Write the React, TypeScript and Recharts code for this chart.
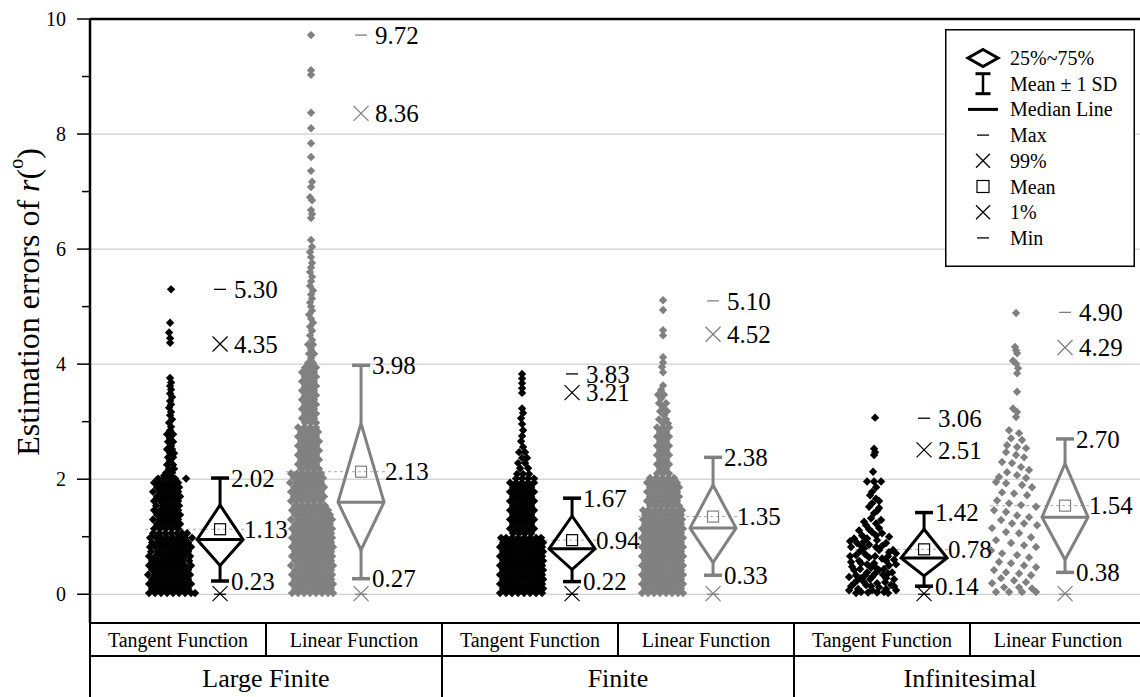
import React from 'react';
import { ComposedChart, Scatter, XAxis, YAxis, ReferenceLine, Legend, Label, CartesianGrid } from 'recharts';

const FONT = '"Liberation Serif", "Times New Roman", serif';

// ---------- categories / ticks ----------
const GROUPS = ['Large Finite', 'Finite', 'Infinitesimal'];
const SUBCATS = ['Tangent Function', 'Linear Function'];
const Y_TICKS = [0, 1, 2, 3, 4, 5, 6, 7, 8, 9, 10];
const GRID_VALUES = [0, 2, 4, 6, 8];
const SUB_TICKS = [0.5, 1.5, 2.5, 3.5, 4.5, 5.5];
const GROUP_TICKS = [1, 3, 5];
const LEGEND_ITEMS = ['25%~75%', 'Mean \u00b1 1 SD', 'Median Line', 'Max', '99%', 'Mean', '1%', 'Min'];

// ---------- box statistics (series order: LF-Tan, LF-Lin, F-Tan, F-Lin, I-Tan, I-Lin) ----------
const MAX_V = [5.3, 9.72, 3.83, 5.1, 3.06, 4.9];
const P99 = [4.35, 8.36, 3.21, 4.52, 2.51, 4.29];
const SD_HI = [2.02, 3.98, 1.67, 2.38, 1.42, 2.7];
const Q3 = [1.55, 2.97, 1.36, 1.9, 1.13, 2.27];
const MEAN = [1.13, 2.13, 0.94, 1.35, 0.78, 1.54];
const MEDIAN = [0.95, 1.6, 0.79, 1.15, 0.63, 1.34];
const Q1 = [0.5, 0.77, 0.43, 0.55, 0.32, 0.6];
const SD_LO = [0.23, 0.27, 0.22, 0.33, 0.14, 0.38];
const P1 = [0.01, 0.01, 0.01, 0.01, 0.01, 0.01];
const MIN_V = [0.0, 0.0, 0.0, 0.0, 0.0, 0.0];

// ---------- raw data points: [value, jitter offsets (px)] ----------
type Row = [number, number[]];

const LF_TAN: Row[] = [
  [0.02, [-21, -15, -9, -3, 3, 9, 15, 21, 25]], [0.1, [-18, -12, -6, 0, 6, 12, 18]],
  [0.18, [-21, -15, -9, -3, 3, 9, 15, 21]], [0.26, [-18, -12, -6, 0, 6, 12, 18]],
  [0.34, [-22, -15, -9, -3, 3, 9, 15, 20]], [0.42, [-18, -12, -6, 0, 6, 12, 18]],
  [0.5, [-21, -15, -9, -3, 3, 9, 15, 21]], [0.58, [-18, -12, -6, 0, 6, 12, 19]],
  [0.66, [-21, -15, -9, -3, 3, 9, 15, 20]], [0.74, [-19, -12, -6, 0, 6, 12, 18]],
  [0.82, [-20, -15, -9, -3, 3, 9, 15, 21]], [0.9, [-18, -12, -6, 0, 6, 12, 18]],
  [0.98, [-20, -14, -9, -3, 3, 9, 15, 22]], [1.06, [-17, -11, -5, 1, 7, 12, 17]],
  [1.14, [-16, -10, -4, 2, 8]], [1.22, [-13, -7, -1, 5, 10]], [1.3, [-17, -10, -4, 2, 8]],
  [1.38, [-13, -7, -1, 5, 10]], [1.46, [-16, -10, -4, 2, 8]], [1.54, [-14, -7, -1, 5, 9]],
  [1.62, [-16, -10, -4, 2, 8]], [1.7, [-13, -7, -1, 5, 10]], [1.78, [-17, -10, -4, 2, 8]],
  [1.86, [-13, -7, -1, 5, 9]], [1.94, [-16, -10, -4, 2, 8]], [2.01, [-12, -6, 0, 5, 16]],
  [2.06, [-6, 0]], [2.11, [-4, 2]], [2.18, [-1, 4]], [2.25, [-3, 3]], [2.32, [0]], [2.38, [-2, 3]],
  [2.45, [0, 4]], [2.52, [-3, 2]], [2.58, [1]], [2.65, [-2, 3]], [2.71, [0]], [2.78, [-3, 3]],
  [2.85, [0]], [2.91, [1]], [2.98, [-1]], [3.04, [2]], [3.11, [0]], [3.17, [1]], [3.24, [-1]],
  [3.3, [1]], [3.36, [0]], [3.43, [2]], [3.49, [0]], [3.56, [1]], [3.62, [0]], [3.68, [1]],
  [3.76, [0]], [4.37, [0]], [4.45, [0]], [4.55, [-1]], [4.72, [0]], [5.3, [1]],
];

const LF_LIN: Row[] = [
  [0.02, [-19, -13, -7, -1, 5, 11, 17, 22]], [0.1, [-16, -10, -4, 2, 8, 14, 20]],
  [0.18, [-19, -13, -7, -1, 5, 11, 17, 22]], [0.26, [-16, -10, -4, 2, 8, 14, 20]],
  [0.34, [-19, -13, -7, -1, 5, 11, 17, 21]], [0.42, [-16, -10, -4, 2, 8, 14, 20]],
  [0.5, [-20, -13, -7, -1, 5, 11, 17, 22]], [0.58, [-16, -10, -4, 2, 8, 14, 20]],
  [0.66, [-19, -13, -7, -1, 5, 11, 17, 21]], [0.74, [-16, -10, -4, 2, 8, 14, 20]],
  [0.82, [-19, -13, -7, -1, 5, 11, 17, 22]], [0.9, [-16, -10, -4, 2, 8, 14, 20]],
  [0.98, [-19, -13, -7, -1, 5, 11, 17, 21]], [1.06, [-16, -10, -4, 2, 8, 14, 20]],
  [1.14, [-19, -13, -7, -1, 5, 11, 17, 21]], [1.22, [-16, -10, -4, 2, 8, 14, 19]],
  [1.3, [-20, -13, -7, -1, 5, 11, 17, 21]], [1.38, [-16, -10, -4, 2, 8, 14, 19]],
  [1.46, [-19, -13, -7, -1, 5, 11, 17]], [1.54, [-16, -10, -4, 2, 8, 14]],
  [1.62, [-20, -14, -8, -2, 4, 10]], [1.7, [-17, -11, -5, 1, 7, 13]], [1.78, [-20, -14, -8, -2, 4, 10]],
  [1.86, [-17, -11, -5, 1, 7, 13]], [1.94, [-21, -14, -8, -2, 4, 10]], [2.02, [-17, -11, -5, 1, 7, 12]],
  [2.1, [-20, -14, -8, -2, 4, 10]], [2.18, [-10, -4, 2, 8]], [2.26, [-13, -7, -1, 5]],
  [2.34, [-10, -4, 2, 8]], [2.42, [-13, -7, -1, 5]], [2.5, [-10, -4, 2, 8]], [2.58, [-13, -7, -1, 5]],
  [2.66, [-10, -4, 2, 8]], [2.74, [-13, -7, -1, 5]], [2.82, [-10, -4, 2, 7]], [2.9, [-13, -7, -1, 5]],
  [2.98, [-6, 0, 5]], [3.06, [-9, -3, 3]], [3.14, [-6, 0, 5]], [3.22, [-9, -3, 3]], [3.3, [-6, 0, 5]],
  [3.38, [-9, -3, 3]], [3.46, [-6, 0, 5]], [3.54, [-9, -3, 3]], [3.62, [-6, 0, 5]], [3.7, [-9, -3, 3]],
  [3.78, [-6, 0, 5]], [3.86, [-9, -3, 3]], [3.94, [-6, 0, 5]], [4.02, [-3, 2]], [4.1, [0]],
  [4.18, [-2, 3]], [4.26, [0]], [4.34, [-3, 2]], [4.42, [1]], [4.5, [-1]], [4.58, [1]], [4.65, [-1]],
  [4.72, [2]], [4.79, [0]], [4.86, [-2]], [4.93, [1]], [5.0, [0]], [5.07, [-1]], [5.14, [1]],
  [5.21, [0]], [5.28, [2]], [5.36, [-1]], [5.44, [0]], [5.52, [1]], [5.6, [-1]], [5.68, [0]],
  [5.76, [1]], [5.86, [0]], [5.95, [-1]], [6.04, [1]], [6.16, [0]], [6.54, [0]], [6.61, [1]],
  [6.68, [0]], [6.85, [1]], [6.9, [-1]], [7.08, [0]], [7.17, [1]], [7.36, [0]], [7.6, [0]],
  [7.84, [0]], [8.1, [0]], [8.37, [0]], [9.03, [0]], [9.11, [0]], [9.72, [0]],
];

const FI_TAN: Row[] = [
  [0.02, [-22, -16, -10, -4, 2, 8, 14, 20]], [0.1, [-19, -13, -7, -1, 5, 11, 17, 21]],
  [0.18, [-22, -16, -10, -4, 2, 8, 14, 20]], [0.26, [-19, -13, -7, -1, 5, 11, 17, 21]],
  [0.34, [-22, -16, -10, -4, 2, 8, 14, 20]], [0.42, [-19, -13, -7, -1, 5, 11, 17, 21]],
  [0.5, [-22, -16, -10, -4, 2, 8, 14, 20]], [0.58, [-19, -13, -7, -1, 5, 11, 17, 21]],
  [0.66, [-22, -16, -10, -4, 2, 8, 14, 20]], [0.74, [-19, -13, -7, -1, 5, 11, 17, 21]],
  [0.82, [-22, -16, -10, -4, 2, 8, 14, 20]], [0.9, [-19, -13, -7, -1, 5, 11, 17, 21]],
  [0.98, [-21, -16, -10, -4, 2, 8, 14, 19]], [1.06, [-9, -3, 3, 9]], [1.14, [-12, -6, 0, 6, 12]],
  [1.22, [-9, -3, 3, 9]], [1.3, [-12, -6, 0, 6, 12]], [1.38, [-9, -3, 3, 9]], [1.46, [-12, -6, 0, 6, 12]],
  [1.54, [-9, -3, 3, 9]], [1.62, [-12, -6, 0, 6, 12]], [1.7, [-9, -3, 3, 9]], [1.78, [-12, -6, 0, 6, 12]],
  [1.86, [-9, -3, 3, 9]], [1.94, [-12, -6, 0, 6, 12]], [2.01, [-6, 0, 6, 12]], [2.09, [-5, 1, 7]],
  [2.19, [-2, 6]], [2.28, [-4, 3]], [2.37, [0, 5]], [2.47, [-3, 3]], [2.56, [1]], [2.66, [-1]],
  [2.75, [0]], [2.85, [1]], [2.96, [0]], [3.06, [-1]], [3.15, [1]], [3.23, [0]], [3.5, [0]],
  [3.58, [0]], [3.67, [0]], [3.75, [0]], [3.83, [0]],
];

const FI_LIN: Row[] = [
  [0.02, [-21, -15, -9, -3, 3, 9, 15, 20]], [0.1, [-18, -12, -6, 0, 6, 12, 18]],
  [0.18, [-21, -15, -9, -3, 3, 9, 15, 20]], [0.26, [-18, -12, -6, 0, 6, 12, 18]],
  [0.34, [-21, -15, -9, -3, 3, 9, 15, 20]], [0.42, [-18, -12, -6, 0, 6, 12, 18]],
  [0.5, [-21, -15, -9, -3, 3, 9, 15, 20]], [0.58, [-18, -12, -6, 0, 6, 12, 18]],
  [0.66, [-21, -15, -9, -3, 3, 9, 15, 20]], [0.74, [-18, -12, -6, 0, 6, 12, 18]],
  [0.82, [-21, -15, -9, -3, 3, 9, 15, 20]], [0.9, [-18, -12, -6, 0, 6, 12, 18]],
  [0.98, [-21, -15, -9, -3, 3, 9, 15, 20]], [1.06, [-18, -12, -6, 0, 6, 12, 18]],
  [1.14, [-21, -15, -9, -3, 3, 9, 15, 20]], [1.22, [-18, -12, -6, 0, 6, 12, 18]],
  [1.3, [-20, -15, -9, -3, 3, 9, 15, 19]], [1.38, [-18, -12, -6, 0, 6, 12, 18]],
  [1.46, [-20, -15, -9, -3, 3, 9, 15, 19]], [1.54, [-13, -7, -1, 5, 11, 16]],
  [1.62, [-16, -10, -4, 2, 8, 14]], [1.7, [-13, -7, -1, 5, 11, 16]], [1.78, [-16, -10, -4, 2, 8, 14]],
  [1.86, [-13, -7, -1, 5, 11, 16]], [1.94, [-16, -10, -4, 2, 8, 14]], [2.02, [-13, -7, -1, 5, 11]],
  [2.1, [-6, 0, 6]], [2.18, [-3, 3]], [2.26, [-6, 0, 6]], [2.34, [-3, 3]], [2.42, [-6, 0, 6]],
  [2.5, [-3, 3]], [2.58, [-6, 0, 6]], [2.66, [-3, 3]], [2.74, [-6, 0, 6]], [2.82, [-3, 3]],
  [2.9, [-6, 0, 6]], [2.97, [0, 5]], [3.04, [-4, 3]], [3.11, [1]], [3.18, [-3, 4]], [3.25, [0]],
  [3.32, [-4, 3]], [3.4, [-2]], [3.47, [-5, 1]], [3.55, [-2]], [3.63, [0]], [3.86, [0]],
  [3.95, [-1]], [4.03, [0]], [4.12, [0]], [4.5, [0]], [4.59, [0]], [4.94, [0]], [5.11, [0]],
];

const IN_TAN: Row[] = [
  [0.02, [-18, 14]], [0.03, [-6, 3]], [0.04, [-13, 10]], [0.07, [-25, -2, 22]], [0.09, [-16, 12]],
  [0.12, [5]], [0.14, [-23, -3, 20]], [0.16, [-8, 17]], [0.19, [-20, 3]], [0.21, [-10, 11]],
  [0.24, [-17]], [0.26, [-4, 20]], [0.28, [-13, 12]], [0.3, [-25, -2]], [0.33, [-18, -9]],
  [0.34, [9]], [0.36, [1, 14]], [0.38, [-7, 18]], [0.42, [-20, 5]], [0.44, [-14, 10]],
  [0.46, [-3]], [0.48, [-22, 1]], [0.5, [15]], [0.52, [-7, 22]], [0.54, [-13, 0]], [0.56, [-23]],
  [0.58, [-15, 12]], [0.6, [20]], [0.62, [8]], [0.64, [-5]], [0.66, [-24, 1, 14]], [0.68, [-18]],
  [0.7, [-9]], [0.71, [22]], [0.73, [15]], [0.75, [-14]], [0.77, [5, 19]], [0.8, [-10]],
  [0.82, [-23, 2]], [0.84, [-13, 8]], [0.86, [-5]], [0.89, [-17, 12]], [0.92, [-24, -10]],
  [0.94, [3]], [0.97, [-20, -7]], [1.0, [15]], [1.02, [-12, 2]], [1.06, [8]], [1.08, [-2]],
  [1.11, [-15]], [1.13, [-5]], [1.15, [5]], [1.2, [-8]], [1.23, [2]], [1.26, [-10]], [1.29, [7]],
  [1.32, [-3]], [1.41, [0]], [1.45, [3]], [1.5, [5]], [1.52, [-5]], [1.58, [-2]], [1.62, [5]],
  [1.66, [2]], [1.72, [-4]], [1.78, [-2]], [1.86, [2]], [1.96, [-7, 0, 7]], [2.13, [-1]],
  [2.42, [0]], [2.47, [1]], [2.53, [0]], [3.07, [1]],
];

const IN_LIN: Row[] = [
  [0.04, [-19, -6, 7, 21]], [0.1, [17]], [0.12, [-11, 4]], [0.19, [-23]], [0.21, [11]], [0.24, [-1]],
  [0.28, [-14]], [0.33, [16]], [0.36, [4]], [0.38, [-9]], [0.42, [-21]], [0.47, [21]], [0.5, [9]],
  [0.54, [-4]], [0.56, [-16]], [0.64, [14]], [0.68, [2]], [0.71, [-13]], [0.76, [-24]], [0.82, [21]],
  [0.85, [9]], [0.89, [-4]], [0.94, [-19]], [0.99, [16]], [1.06, [4]], [1.08, [-9]], [1.15, [-23]],
  [1.2, [22]], [1.23, [-3, 9]], [1.29, [-14]], [1.34, [14]], [1.37, [2]], [1.43, [-9]], [1.46, [-21]],
  [1.52, [21]], [1.55, [6]], [1.58, [-6]], [1.63, [-18]], [1.72, [12]], [1.75, [-1]], [1.77, [-13]],
  [1.86, [17]], [1.9, [7]], [1.93, [-9]], [1.95, [-19]], [2.02, [11]], [2.04, [-16]], [2.07, [2]],
  [2.12, [-8]], [2.16, [14]], [2.21, [6]], [2.28, [-3]], [2.3, [-13]], [2.38, [9]], [2.42, [1]],
  [2.47, [-9]], [2.54, [11]], [2.56, [2]], [2.59, [-8]], [2.68, [7]], [2.71, [-4]], [2.8, [4]],
  [2.85, [-6]], [3.08, [1]], [3.17, [2]], [3.23, [-2]], [3.52, [2]], [3.84, [2]], [3.93, [3]],
  [4.01, [1]], [4.06, [-2]], [4.19, [2]], [4.24, [1]], [4.3, [0]], [4.89, [1]],
];

const CLOUDS: Row[][] = [LF_TAN, LF_LIN, FI_TAN, FI_LIN, IN_TAN, IN_LIN];

// ---------- layout constants ----------
const CHART_W = 1146;
const CHART_H = 697;
const PLOT_W = 1056;
const CELL_PX = PLOT_W / 6;
const PX = 6 / PLOT_W; // x-axis units per pixel
const BOX_POS = [0.739, 0.54];
const DOT_SHIFT = 0.284;
const COLORS = ['#000000', '#808080'];
const DIAMOND_HW = 23 * PX;
const CAP_HW = 9 * PX;
const P99_NUDGE_PX = [0, 0, -17, 0, 0, 0];
const AX = 'a1_sub';
const AX_GRP = 'a2_grp';

const fmt = (v: number) => v.toFixed(2);

const series = CLOUDS.map((rows, i) => {
  const kind = i % 2;
  const boxX = i + BOX_POS[kind];
  const dotX = boxX - DOT_SHIFT;
  const points = rows.flatMap(([v, dxs]) => dxs.map((dx) => ({ x: dotX + dx * PX, y: v })));
  return { i, kind, boxX, dotX, color: COLORS[kind], points };
});

const dotShape = (color: string) => (p: any) => {
  const { cx, cy } = p;
  if (cx == null || cy == null) return <g />;
  const r = 4.2;
  return <polygon points={`${cx},${cy - r} ${cx + r},${cy} ${cx},${cy + r} ${cx - r},${cy}`} fill={color} />;
};

const emptyShape = () => <g />;

const squareShape = (color: string) => (p: any) => {
  const { cx, cy } = p;
  return <rect x={cx - 5.5} y={cy - 5.5} width={11} height={11} fill="none" stroke={color} strokeWidth={1.2} />;
};

const markerShape = (color: string) => (p: any) => {
  const { cx, payload } = p;
  const cy = p.cy + (payload.nudge || 0);
  if (payload.m === 'dash') {
    return <line x1={cx - 6} x2={cx + 6} y1={cy} y2={cy} stroke={color} strokeWidth={1.3} />;
  }
  const s = 7.5;
  return (
    <g stroke={color} strokeWidth={1.3}>
      <line x1={cx - s} y1={cy - s} x2={cx + s} y2={cy + s} />
      <line x1={cx - s} y1={cy + s} x2={cx + s} y2={cy - s} />
    </g>
  );
};

const labelShape = (p: any) => {
  const { cx, payload } = p;
  const cy = p.cy + (payload.nudge || 0);
  return (
    <text x={cx + payload.dx} y={cy} dy="0.35em" fontSize={25} fontFamily={FONT} fill="#000">
      {payload.t}
    </text>
  );
};

const YTick = (p: any) => {
  const { x, y, payload } = p;
  const v = payload.value;
  const major = v % 2 === 0;
  return (
    <g>
      <line x1={x - (major ? 13 : 8)} x2={x} y1={y} y2={y} stroke="#000" strokeWidth={1.5} />
      {major && (
        <text x={x - 24} y={y} dy="0.35em" textAnchor="end" fontSize={20} fontFamily={FONT} fill="#000">
          {v}
        </text>
      )}
    </g>
  );
};

const SubTick = (p: any) => {
  const { x, y, payload } = p;
  const idx = Math.floor(payload.value);
  return (
    <g>
      {idx === 0 && <line x1={x - CELL_PX / 2} x2={x - CELL_PX / 2} y1={y} y2={y + 33} stroke="#000" strokeWidth={2} />}
      <line x1={x + CELL_PX / 2} x2={x + CELL_PX / 2} y1={y} y2={y + 33} stroke="#000" strokeWidth={2} />
      <text x={x} y={y + 17} dy="0.35em" textAnchor="middle" fontSize={20} fontFamily={FONT} fill="#000">
        {SUBCATS[idx % 2]}
      </text>
    </g>
  );
};

const GroupTick = (p: any) => {
  const { x, y, payload } = p;
  const gi = Math.round((payload.value - 1) / 2);
  return (
    <g>
      <line x1={x - CELL_PX} x2={x - CELL_PX} y1={y} y2={y + 45} stroke="#000" strokeWidth={2} />
      <line x1={x + CELL_PX} x2={x + CELL_PX} y1={y} y2={y + 45} stroke="#000" strokeWidth={2} />
      <text x={x} y={y + 22} dy="0.35em" textAnchor="middle" fontSize={26} fontFamily={FONT} fill="#000">
        {GROUPS[gi]}
      </text>
    </g>
  );
};

const YTitle = () => {
  const cx = 28;
  const cy = 302;
  return (
    <text
      x={cx}
      y={cy}
      transform={`rotate(-90, ${cx}, ${cy})`}
      textAnchor="middle"
      dominantBaseline="central"
      fontSize={32}
      fontFamily={FONT}
      fill="#000"
    >
      Estimation errors of <tspan fontStyle="italic">r</tspan>(
      <tspan dy={-12} fontSize={20}>o</tspan>
      <tspan dy={12}>)</tspan>
    </text>
  );
};

const legendIcon = (k: number, x: number, y: number) => {
  switch (k) {
    case 0:
      return <polygon points={`${x},${y - 8.5} ${x + 15},${y} ${x},${y + 8.5} ${x - 15},${y}`} fill="none" stroke="#000" strokeWidth={3} />;
    case 1:
      return (
        <g stroke="#000">
          <line x1={x} x2={x} y1={y - 10} y2={y + 10} strokeWidth={2.5} />
          <line x1={x - 7.5} x2={x + 7.5} y1={y - 10} y2={y - 10} strokeWidth={3} />
          <line x1={x - 7.5} x2={x + 7.5} y1={y + 10} y2={y + 10} strokeWidth={3} />
        </g>
      );
    case 2:
      return <line x1={x - 15} x2={x + 15} y1={y} y2={y} stroke="#000" strokeWidth={3} />;
    case 3:
    case 7:
      return <line x1={x - 6} x2={x + 6} y1={y} y2={y} stroke="#000" strokeWidth={1.3} />;
    case 4:
    case 6:
      return (
        <g stroke="#000" strokeWidth={1.3}>
          <line x1={x - 7} y1={y - 7} x2={x + 7} y2={y + 7} />
          <line x1={x - 7} y1={y + 7} x2={x + 7} y2={y - 7} />
        </g>
      );
    default:
      return <rect x={x - 6} y={y - 6} width={12} height={12} fill="none" stroke="#000" strokeWidth={1.2} />;
  }
};

const renderLegend = () => (
  <svg width={190} height={238} style={{ display: 'block' }}>
    <rect x={0.75} y={0.75} width={188.5} height={236.5} fill="#fff" stroke="#000" strokeWidth={1.5} />
    {LEGEND_ITEMS.map((t, k) => {
      const cy = 29 + k * 25.7;
      return (
        <g key={k}>
          {legendIcon(k, 38, cy)}
          <text x={65} y={cy} dy="0.35em" fontSize={20} fontFamily={FONT} fill="#000">
            {t}
          </text>
        </g>
      );
    })}
  </svg>
);

export default function App() {
  return (
    <div style={{ position: 'absolute', left: 0, top: 0, width: 1140, height: 697, overflow: 'hidden', background: '#fff' }}>
      <ComposedChart width={CHART_W} height={CHART_H} margin={{ top: 19, right: 0, bottom: 0, left: 0 }}>
        <CartesianGrid xAxisId={AX} vertical={false} horizontalValues={GRID_VALUES} stroke="#c4c4c4" strokeWidth={1} />
        <XAxis
          xAxisId={AX}
          type="number"
          dataKey="x"
          domain={[0, 6]}
          ticks={SUB_TICKS}
          interval={0}
          allowDataOverflow
          height={33}
          tickSize={0}
          tickMargin={0}
          tickLine={false}
          axisLine={{ stroke: '#000', strokeWidth: 2 }}
          tick={(p: any) => <SubTick {...p} />}
        />
        <XAxis
          xAxisId={AX_GRP}
          type="number"
          dataKey="x"
          domain={[0, 6]}
          ticks={GROUP_TICKS}
          interval={0}
          allowDataOverflow
          height={41}
          tickSize={0}
          tickMargin={0}
          tickLine={false}
          axisLine={{ stroke: '#000', strokeWidth: 2 }}
          tick={(p: any) => <GroupTick {...p} />}
        />
        <YAxis
          type="number"
          dataKey="y"
          domain={[-0.5, 10]}
          ticks={Y_TICKS}
          interval={0}
          allowDataOverflow
          width={90}
          tickSize={0}
          tickMargin={0}
          tickLine={false}
          axisLine={{ stroke: '#000', strokeWidth: 2.5 }}
          tick={(p: any) => <YTick {...p} />}
        >
          <Label content={() => <YTitle />} />
        </YAxis>
        <ReferenceLine xAxisId={AX} y={10} stroke="#000" strokeWidth={2.5} />

        {series.map((s) => (
          <Scatter key={`dots-${s.i}`} xAxisId={AX} data={s.points} shape={dotShape(s.color)} isAnimationActive={false} />
        ))}

        {series.map((s) => (
          <ReferenceLine
            key={`meanline-${s.i}`}
            xAxisId={AX}
            segment={[
              { x: s.dotX - 25 * PX, y: MEAN[s.i] },
              { x: s.boxX + DIAMOND_HW + 2 * PX, y: MEAN[s.i] },
            ]}
            stroke="#a8a8a8"
            strokeWidth={1}
            strokeDasharray="3 3"
          />
        ))}

        {series.map((s) => (
          <Scatter
            key={`diamond-${s.i}`}
            xAxisId={AX}
            data={[
              { x: s.boxX, y: Q3[s.i] },
              { x: s.boxX + DIAMOND_HW, y: MEDIAN[s.i] },
              { x: s.boxX, y: Q1[s.i] },
              { x: s.boxX - DIAMOND_HW, y: MEDIAN[s.i] },
              { x: s.boxX, y: Q3[s.i] },
              { x: s.boxX + DIAMOND_HW, y: MEDIAN[s.i] },
            ]}
            line={{ stroke: s.color, strokeWidth: 3, fill: 'none', strokeLinejoin: 'miter' }}
            lineType="joint"
            shape={emptyShape}
            isAnimationActive={false}
          />
        ))}

        {series.map((s) => (
          <ReferenceLine
            key={`median-${s.i}`}
            xAxisId={AX}
            segment={[
              { x: s.boxX - DIAMOND_HW, y: MEDIAN[s.i] },
              { x: s.boxX + DIAMOND_HW, y: MEDIAN[s.i] },
            ]}
            stroke={s.color}
            strokeWidth={3}
          />
        ))}
        {series.map((s) => (
          <ReferenceLine
            key={`whup-${s.i}`}
            xAxisId={AX}
            segment={[
              { x: s.boxX, y: SD_HI[s.i] },
              { x: s.boxX, y: Q3[s.i] },
            ]}
            stroke={s.color}
            strokeWidth={3}
          />
        ))}
        {series.map((s) => (
          <ReferenceLine
            key={`whlo-${s.i}`}
            xAxisId={AX}
            segment={[
              { x: s.boxX, y: Q1[s.i] },
              { x: s.boxX, y: SD_LO[s.i] },
            ]}
            stroke={s.color}
            strokeWidth={3}
          />
        ))}
        {series.map((s) => (
          <ReferenceLine
            key={`caphi-${s.i}`}
            xAxisId={AX}
            segment={[
              { x: s.boxX - CAP_HW, y: SD_HI[s.i] },
              { x: s.boxX + CAP_HW, y: SD_HI[s.i] },
            ]}
            stroke={s.color}
            strokeWidth={3.5}
          />
        ))}
        {series.map((s) => (
          <ReferenceLine
            key={`caplo-${s.i}`}
            xAxisId={AX}
            segment={[
              { x: s.boxX - CAP_HW, y: SD_LO[s.i] },
              { x: s.boxX + CAP_HW, y: SD_LO[s.i] },
            ]}
            stroke={s.color}
            strokeWidth={3.5}
          />
        ))}

        {series.map((s) => (
          <Scatter
            key={`mean-${s.i}`}
            xAxisId={AX}
            data={[{ x: s.boxX, y: MEAN[s.i] }]}
            shape={squareShape(s.color)}
            isAnimationActive={false}
          />
        ))}

        {series.map((s) => (
          <Scatter
            key={`markers-${s.i}`}
            xAxisId={AX}
            data={[
              { x: s.boxX, y: MAX_V[s.i], m: 'dash' },
              { x: s.boxX, y: P99[s.i], m: 'x', nudge: P99_NUDGE_PX[s.i] },
              { x: s.boxX, y: P1[s.i], m: 'x' },
              { x: s.boxX, y: MIN_V[s.i], m: 'dash' },
            ]}
            shape={markerShape(s.color)}
            isAnimationActive={false}
          />
        ))}

        {series.map((s) => (
          <Scatter
            key={`labels-${s.i}`}
            xAxisId={AX}
            data={[
              { x: s.boxX, y: MAX_V[s.i], t: fmt(MAX_V[s.i]), dx: 14 },
              { x: s.boxX, y: P99[s.i], t: fmt(P99[s.i]), dx: 14, nudge: P99_NUDGE_PX[s.i] },
              { x: s.boxX, y: SD_HI[s.i], t: fmt(SD_HI[s.i]), dx: 11 },
              { x: s.boxX, y: MEAN[s.i], t: fmt(MEAN[s.i]), dx: 24 },
              { x: s.boxX, y: SD_LO[s.i], t: fmt(SD_LO[s.i]), dx: 11 },
            ]}
            shape={labelShape}
            isAnimationActive={false}
          />
        ))}

        <Legend
          layout="horizontal"
          verticalAlign="middle"
          align="center"
          content={renderLegend}
          wrapperStyle={{ position: 'absolute', left: 945, top: 29, width: 190, height: 238 }}
        />
      </ComposedChart>
    </div>
  );
}
